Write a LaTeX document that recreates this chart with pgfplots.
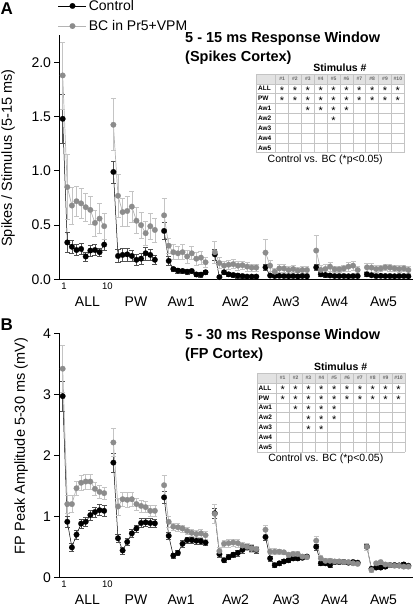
\documentclass[border=0pt]{standalone}
\usepackage{pgfplots}
\pgfplotsset{compat=1.18}
\usepackage{pgfplotstable}
\usepackage{fontspec}
\setmainfont{Liberation Sans}

\definecolor{bcgray}{HTML}{8C8C8C}
\definecolor{bcline}{HTML}{B4B4B4}
\definecolor{bcerr}{HTML}{C4C4C4}
\definecolor{ctrerr}{HTML}{505050}
\definecolor{tabgrid}{HTML}{C4C4C4}
\definecolor{tabhead}{HTML}{E2E2E2}

% Panel A, control
\pgfplotstableread{
x y e
1 1.48 0.23
2 0.34 0.09
3 0.30 0.06
4 0.27 0.05
5 0.28 0.05
6 0.21 0.04
7 0.265 0.05
8 0.27 0.05
9 0.25 0.04
10 0.32 0.05
11 nan 0
12 0.99 0.10
13 0.215 0.06
14 0.225 0.06
15 0.23 0.06
16 0.215 0.05
17 0.18 0.05
18 0.19 0.05
19 0.24 0.06
20 0.225 0.05
21 0.18 0.04
22 nan 0
23 0.446 0.08
24 0.17 0.04
25 0.095 0.02
26 0.08 0.02
27 0.077 0.02
28 0.07 0.02
29 0.077 0.02
30 0.045 0.02
31 0.043 0.02
32 0.065 0.02
33 nan 0
34 0.23 0.05
35 0.02 0.02
36 0.065 0.02
37 0.046 0.02
38 0.04 0.02
39 0.034 0.02
40 0.03 0.02
41 0.025 0.01
42 0.025 0.01
43 0.025 0.01
44 nan 0
45 0.11 0.03
46 0.035 0.01
47 0.03 0.01
48 0.032 0.01
49 0.03 0.01
50 0.028 0.01
51 0.03 0.01
52 0.027 0.01
53 0.03 0.01
54 0.028 0.01
55 nan 0
56 0.11 0.03
57 0.046 0.02
58 0.04 0.02
59 0.035 0.01
60 0.03 0.01
61 0.03 0.01
62 0.03 0.01
63 0.028 0.01
64 0.03 0.01
65 0.03 0.01
66 nan 0
67 0.046 0.02
68 0.037 0.01
69 0.03 0.01
70 0.032 0.01
71 0.03 0.01
72 0.03 0.01
73 0.028 0.01
74 0.03 0.01
75 0.03 0.01
76 0.028 0.01
}\AC

% Panel A, BC in Pr5+VPM
\pgfplotstableread{
x y e
1 1.88 0.31
2 0.85 0.30
3 0.68 0.17
4 0.72 0.14
5 0.70 0.14
6 0.665 0.13
7 0.64 0.13
8 0.52 0.12
9 0.56 0.14
10 0.49 0.12
11 nan 0
12 1.425 0.24
13 0.77 0.20
14 0.62 0.13
15 0.63 0.14
16 0.67 0.14
17 0.54 0.12
18 0.50 0.12
19 0.425 0.11
20 0.49 0.12
21 0.455 0.11
22 nan 0
23 0.59 0.16
24 0.31 0.07
25 0.25 0.07
26 0.24 0.06
27 0.25 0.07
28 0.21 0.06
29 0.24 0.06
30 0.19 0.06
31 0.20 0.06
32 0.157 0.05
33 nan 0
34 0.25 0.10
35 0.15 0.05
36 0.126 0.04
37 0.135 0.04
38 0.14 0.04
39 0.126 0.04
40 0.13 0.04
41 0.117 0.04
42 0.108 0.03
43 0.108 0.03
44 nan 0
45 0.246 0.12
46 0.126 0.05
47 0.07 0.03
48 0.10 0.04
49 0.10 0.04
50 0.086 0.03
51 0.095 0.03
52 0.08 0.03
53 0.086 0.03
54 0.086 0.03
55 nan 0
56 0.265 0.14
57 0.086 0.04
58 0.095 0.04
59 0.117 0.04
60 0.092 0.03
61 0.092 0.03
62 0.10 0.03
63 0.117 0.04
64 0.126 0.04
65 0.086 0.03
66 nan 0
67 0.11 0.04
68 0.108 0.04
69 0.095 0.03
70 0.10 0.03
71 0.11 0.03
72 0.108 0.03
73 0.10 0.03
74 0.095 0.03
75 0.10 0.03
76 0.086 0.03
}\ABC

% Panel B, control
\pgfplotstableread{
x y e
1 2.97 0.25
2 0.91 0.09
3 0.49 0.07
4 0.70 0.07
5 0.88 0.07
6 0.91 0.08
7 1.02 0.08
8 1.07 0.08
9 1.10 0.09
10 1.09 0.09
11 nan 0
12 1.88 0.15
13 0.64 0.07
14 0.44 0.06
15 0.58 0.06
16 0.72 0.06
17 0.80 0.06
18 0.89 0.07
19 0.90 0.07
20 0.89 0.07
21 0.885 0.07
22 nan 0
23 1.31 0.10
24 0.68 0.06
25 0.355 0.04
26 0.40 0.04
27 0.55 0.05
28 0.61 0.05
29 0.61 0.05
30 0.60 0.05
31 0.59 0.05
32 0.57 0.05
33 nan 0
34 1.05 0.08
35 0.38 0.05
36 0.28 0.04
37 0.33 0.04
38 0.37 0.04
39 0.40 0.05
40 0.45 0.05
41 0.49 0.05
42 0.475 0.05
43 0.45 0.05
44 nan 0
45 0.66 0.05
46 0.31 0.04
47 0.20 0.03
48 0.23 0.03
49 0.26 0.03
50 0.28 0.03
51 0.31 0.03
52 0.31 0.03
53 0.32 0.03
54 0.34 0.03
55 nan 0
56 0.50 0.05
57 0.23 0.03
58 0.23 0.03
59 0.20 0.03
60 0.25 0.03
61 0.25 0.03
62 0.25 0.03
63 0.24 0.03
64 0.25 0.03
65 0.24 0.03
66 nan 0
67 0.50 0.05
68 0.14 0.03
69 0.16 0.03
70 0.16 0.03
71 0.175 0.03
72 0.20 0.03
73 0.20 0.03
74 0.195 0.03
75 0.21 0.03
76 0.19 0.03
}\BC

% Panel B, BC in Pr5+VPM
\pgfplotstableread{
x y e
1 3.42 0.38
2 1.20 0.15
3 1.20 0.14
4 1.46 0.12
5 1.55 0.12
6 1.57 0.12
7 1.57 0.12
8 1.45 0.11
9 1.40 0.11
10 1.38 0.10
11 nan 0
12 2.21 0.23
13 1.16 0.14
14 1.28 0.12
15 1.27 0.12
16 1.28 0.12
17 1.20 0.10
18 1.17 0.10
19 1.15 0.09
20 1.09 0.09
21 1.09 0.09
22 nan 0
23 1.51 0.17
24 0.91 0.09
25 0.83 0.06
26 0.82 0.06
27 0.80 0.06
28 0.76 0.06
29 0.73 0.06
30 0.71 0.06
31 0.72 0.06
32 0.69 0.06
33 nan 0
34 1.04 0.15
35 0.43 0.07
36 0.55 0.06
37 0.56 0.06
38 0.57 0.06
39 0.56 0.06
40 0.52 0.06
41 0.50 0.06
42 0.475 0.06
43 0.46 0.05
44 nan 0
45 0.78 0.08
46 0.42 0.05
47 0.42 0.05
48 0.42 0.04
49 0.41 0.04
50 0.37 0.04
51 0.38 0.04
52 0.38 0.04
53 0.34 0.04
54 0.33 0.04
55 nan 0
56 0.60 0.07
57 0.31 0.05
58 0.27 0.04
59 0.27 0.04
60 0.26 0.04
61 0.26 0.04
62 0.25 0.04
63 0.25 0.03
64 0.23 0.03
65 0.22 0.03
66 nan 0
67 0.50 0.06
68 0.12 0.04
69 0.23 0.03
70 0.25 0.03
71 0.21 0.03
72 0.20 0.03
73 0.19 0.03
74 0.19 0.03
75 0.175 0.03
76 0.175 0.03
}\BBC

\pgfplotsset{
  panel/.style={
    scale only axis, width=354bp, height=244bp,
    xmin=0.2, xmax=77, ymin=0,
    unbounded coords=jump,
    axis x line=bottom, axis y line=left,
    axis line style={-, line width=0.9bp, black},
    tick align=outside, major tick length=4.5bp,
    ytick style={black, line width=0.8bp},
    xtick=\empty,
    clip=false,
    yticklabel style={font=\fontsize{14bp}{16bp}\selectfont},
    /pgf/number format/assume math mode=true,
    ylabel style={font=\fontsize{14.5bp}{16bp}\selectfont, anchor=center, rotate=0},
  },
  ctrl/.style={black, line width=0.5bp, mark=*, mark size=2.8bp,
    mark options={fill=black, draw=black, line width=0.2bp},
    error bars/.cd, y dir=both, y explicit,
    error bar style={ctrerr, line width=0.5bp},
    error mark options={rotate=90, mark size=2.5bp, ctrerr, line width=0.5bp}},
  bc/.style={bcline, line width=0.7bp, mark=*, mark size=2.8bp,
    mark options={fill=bcgray, draw=bcgray, line width=0.2bp},
    error bars/.cd, y dir=both, y explicit,
    error bar style={bcerr, line width=0.6bp},
    error mark options={rotate=90, mark size=2.5bp, bcerr, line width=0.6bp}},
}
\tikzset{
  numlab/.style={anchor=base, inner sep=0pt, yshift=-10.1bp, font=\fontsize{9.5bp}{10bp}\selectfont},
  grplab/.style={anchor=base, inner sep=0pt, yshift=-27.3bp, font=\fontsize{14bp}{16bp}\selectfont},
}

% stimulus numbers and group names under the x axis
\newcommand{\xlabels}{%
  \node[numlab] at (axis cs:1.3,0) {1};
  \node[numlab] at (axis cs:10.7,0) {10};
  \node[grplab] at (axis cs:6.37,0) {ALL};
  \node[grplab] at (axis cs:16.9,0) {PW};
  \node[grplab] at (axis cs:26.7,0) {Aw1};
  \node[grplab] at (axis cs:38.5,0) {Aw2};
  \node[grplab] at (axis cs:49.5,0) {Aw3};
  \node[grplab] at (axis cs:60.0,0) {Aw4};
  \node[grplab] at (axis cs:70.6,0) {Aw5};
}

\newcommand{\sigtable}[3]{%
  \begin{scope}[shift={(#1bp,-#2bp)}, x=1bp, y=-1bp]
    \fill[tabhead] (0,0) rectangle (147.6,9.84);
    \foreach \i in {0,...,8} \draw[tabgrid, line width=0.5bp] (0,\i*9.84) -- (147.6,\i*9.84);
    \draw[tabgrid, line width=0.5bp] (0,0) -- (0,78.72);
    \foreach \j in {0,...,10} \draw[tabgrid, line width=0.5bp] (19+\j*12.86,0) -- (19+\j*12.86,78.72);
    \foreach \j in {1,...,10} \node[font=\bfseries\fontsize{5bp}{6bp}\selectfont, text=black!60, inner sep=0pt] at (19+\j*12.86-6.43,4.92) {\#\j};
    \foreach \r [count=\i] in {ALL,PW,Aw1,Aw2,Aw3,Aw4,Aw5}
      \node[anchor=west, font=\bfseries\fontsize{6.5bp}{7bp}\selectfont, inner sep=0pt] at (1.2,4.92+\i*9.84) {\r};
    \foreach \rr/\cc in {#3}
      \node[font=\fontsize{11bp}{11bp}\selectfont, inner sep=0pt] at (19+\cc*12.86-6.43,4.92+\rr*9.84+2) {*};
    \node[font=\bfseries\fontsize{10.5bp}{12bp}\selectfont, inner sep=0pt] at (83.3,-6.5) {Stimulus \#};
    \node[font=\fontsize{10.5bp}{12bp}\selectfont, inner sep=0pt] at (68.5,85.5) {Control vs. BC (*p<0.05)};
  \end{scope}}

\begin{document}
\begin{tikzpicture}
\useasboundingbox (0,0) rectangle (414bp,-606bp);

% ---------- Panel A ----------
\begin{axis}[panel, at={(59bp,-279.3bp)}, anchor=south west,
  ymax=2.25,
  ytick={0,0.5,1,1.5,2}, yticklabels={0.0,0.5,1.0,1.5,2.0},
  ylabel={Spikes / Stimulus (5-15 ms)},
  ylabel style={at={(axis description cs:-0.144,0.497)}, rotate=0},
  legend style={at={(axis description cs:-0.003,1.005)}, anchor=south west,
    draw=none, fill=none, inner sep=0pt, row sep=4.5bp,
    font=\fontsize{14bp}{16bp}\selectfont},
  legend cell align=left,
  legend image code/.code={\draw[mark repeat=2, mark phase=2] plot coordinates {(0bp,0bp) (14bp,0bp) (28bp,0bp)};},
]
\addplot[ctrl] table[x=x, y=y, y error=e] {\AC};
\addlegendentry{Control}
\addplot[bc] table[x=x, y=y, y error=e] {\ABC};
\addlegendentry{BC in Pr5+VPM}
\xlabels
\end{axis}

% ---------- Panel B ----------
\begin{axis}[panel, at={(59bp,-577.3bp)}, anchor=south west,
  ymax=4,
  ytick={0,1,2,3,4}, yticklabels={0,1,2,3,4},
  ylabel={FP Peak Amplitude 5-30 ms (mV)},
  ylabel style={at={(axis description cs:-0.107,0.538)}},
]
\addplot[ctrl] table[x=x, y=y, y error=e] {\BC};
\addplot[bc] table[x=x, y=y, y error=e] {\BBC};
\xlabels
\end{axis}

% panel letters and titles
\node[anchor=west, inner sep=0pt, font=\bfseries\fontsize{17bp}{18bp}\selectfont] at (0.5bp,-9bp) {A};
\node[anchor=west, inner sep=0pt, font=\bfseries\fontsize{17bp}{18bp}\selectfont] at (0.5bp,-325bp) {B};
\node[anchor=west, inner sep=0pt, font=\bfseries\fontsize{14.5bp}{16bp}\selectfont] at (185bp,-39bp) {5 - 15 ms Response Window};
\node[anchor=west, inner sep=0pt, font=\bfseries\fontsize{14.5bp}{16bp}\selectfont] at (185bp,-57.5bp) {(Spikes Cortex)};
\node[anchor=west, inner sep=0pt, font=\bfseries\fontsize{14.5bp}{16bp}\selectfont] at (185bp,-336bp) {5 - 30 ms Response Window};
\node[anchor=west, inner sep=0pt, font=\bfseries\fontsize{14.5bp}{16bp}\selectfont] at (185bp,-355bp) {(FP Cortex)};

% significance tables
\sigtable{256.7}{74}{1/1,1/2,1/3,1/4,1/5,1/6,1/7,1/8,1/9,1/10,2/1,2/2,2/3,2/4,2/5,2/6,2/7,2/8,2/9,2/10,3/3,3/4,3/5,3/6,4/5}
\sigtable{257.3}{373.3}{1/1,1/2,1/3,1/4,1/5,1/6,1/7,1/8,1/9,1/10,2/1,2/2,2/3,2/4,2/5,2/6,2/7,2/8,2/9,2/10,3/2,3/3,3/4,3/5,4/3,4/4,4/5,5/3,5/4}
\end{tikzpicture}
\end{document}
